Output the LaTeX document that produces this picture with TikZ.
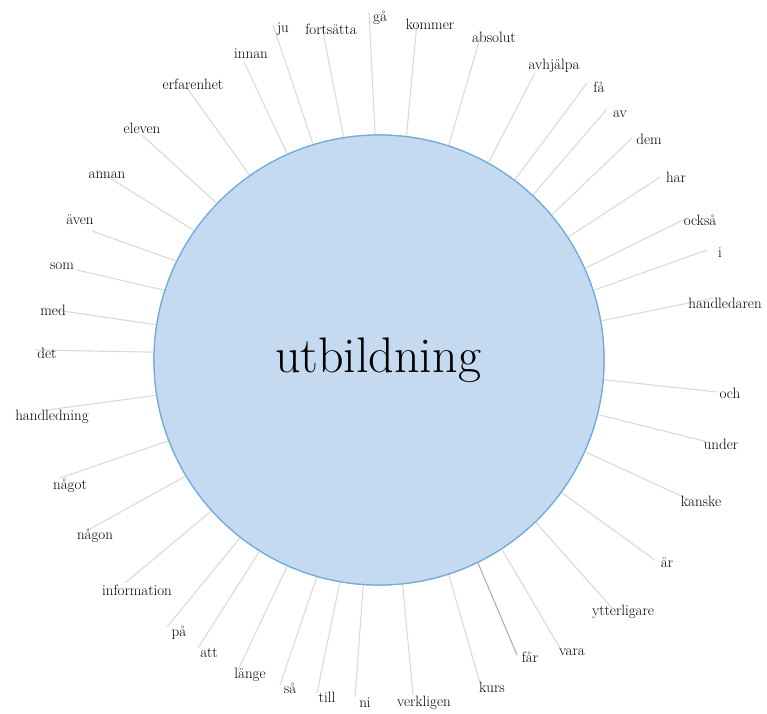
\documentclass[tikz,border=0pt]{standalone}
\usepackage{fontspec}
\definecolor{circfill}{RGB}{197,217,240}
\definecolor{circdraw}{RGB}{110,172,218}
\definecolor{linegrey}{RGB}{218,218,218}
\definecolor{linedark}{RGB}{175,175,175}
\begin{document}
\begin{tikzpicture}[x=1pt,y=-1pt,
  conn/.style={draw=linegrey, line width=1.1pt},
  conndark/.style={draw=linedark, line width=1.1pt},
  word/.style={inner sep=0pt, text height=1.5ex, text depth=.25ex, font=\fontsize{15}{18}\selectfont, text=black},
  hub/.style={circle, minimum size=450pt, inner sep=0pt, draw=circdraw, fill=circfill, line width=1.2pt}]
\useasboundingbox (0,0) rectangle (767,713);
\node[hub] (c) at (379,360) {};
\foreach \i/\a/\ox/\oy/\lx/\ly/\t in {
  1/114.2/244/62/251/56/innan,
  2/107.8/273/25/283/30/ju,
  3/99.9/322/27/331/32/fortsätta,
  4/91.5/369/13/380/19/gå,
  5/83.4/417/22/430/27/kommer,
  6/72.2/480/38/494/40/absolut,
  7/61.1/535/73/554/67/avhjälpa,
  8/53.2/587/83/599/90/få,
  9/47.7/607/109/620/115/av,
  10/40.9/632/138/649/142/dem,
  11/33.1/660/177/676/180/har,
  12/24.8/687/218/700/223/också,
  13/18.6/707/250/720/255/i,
  14/10.8/713/298/725/306/handledaren,
  15/-5.6/717/392/730/396/och,
  16/-14.0/708/442/721/447/under,
  17/-24.1/690/500/701/504/kanske,
  18/-36.4/655/560/667/565/är,
  19/-46.6/612/608/623/613/ytterligare,
  20/-57.8/560/648/572/653/vara,
  22/-72.4/480/683/492/690/kurs,
  23/-84.2/413/695/424/704/verkligen,
  24/-94.1/355/697/365/705/ni,
  25/-100.7/317/693/327/700/till,
  26/-106.9/280/685/290/691/så,
  27/-114.4/238/670/250/676/länge,
  28/-122.1/198/648/209/655/att,
  29/-128.4/167/627/179/634/på,
  30/-138.4/125/583/137/593/information,
  31/-149.7/88/530/95/537/någon,
  32/-159.3/60/478/70/487/något,
  33/-171.4/47/410/52/418/handledning,
  34/178.5/35/350/47/356/det,
  35/171.1/42/308/53/313/med,
  36/162.8/77/270/62/267/som,
  37/154.7/92/231/80/222/även,
  38/145.5/97/170/107/176/annan,
  39/136.6/142/135/142/131/eleven,
  40/125.0/187/88/193/87/erfarenhet}
{
  \coordinate (e\i) at (\ox,\oy);
  \draw[conn] (c.\a) -- (e\i);
  \node[word] (l\i) at (\lx,\ly) {\t};
}
\coordinate (e21) at (517,655);
\draw[conndark] (c.-64.7) -- (e21);
\node[word] (l21) at (530,660) {får};
\node[hub] at (c) {};
\node[anchor=base, inner sep=0pt, font=\fontsize{50}{60}\selectfont] (title) at (378,372) {utbildning};
\end{tikzpicture}
\end{document}
